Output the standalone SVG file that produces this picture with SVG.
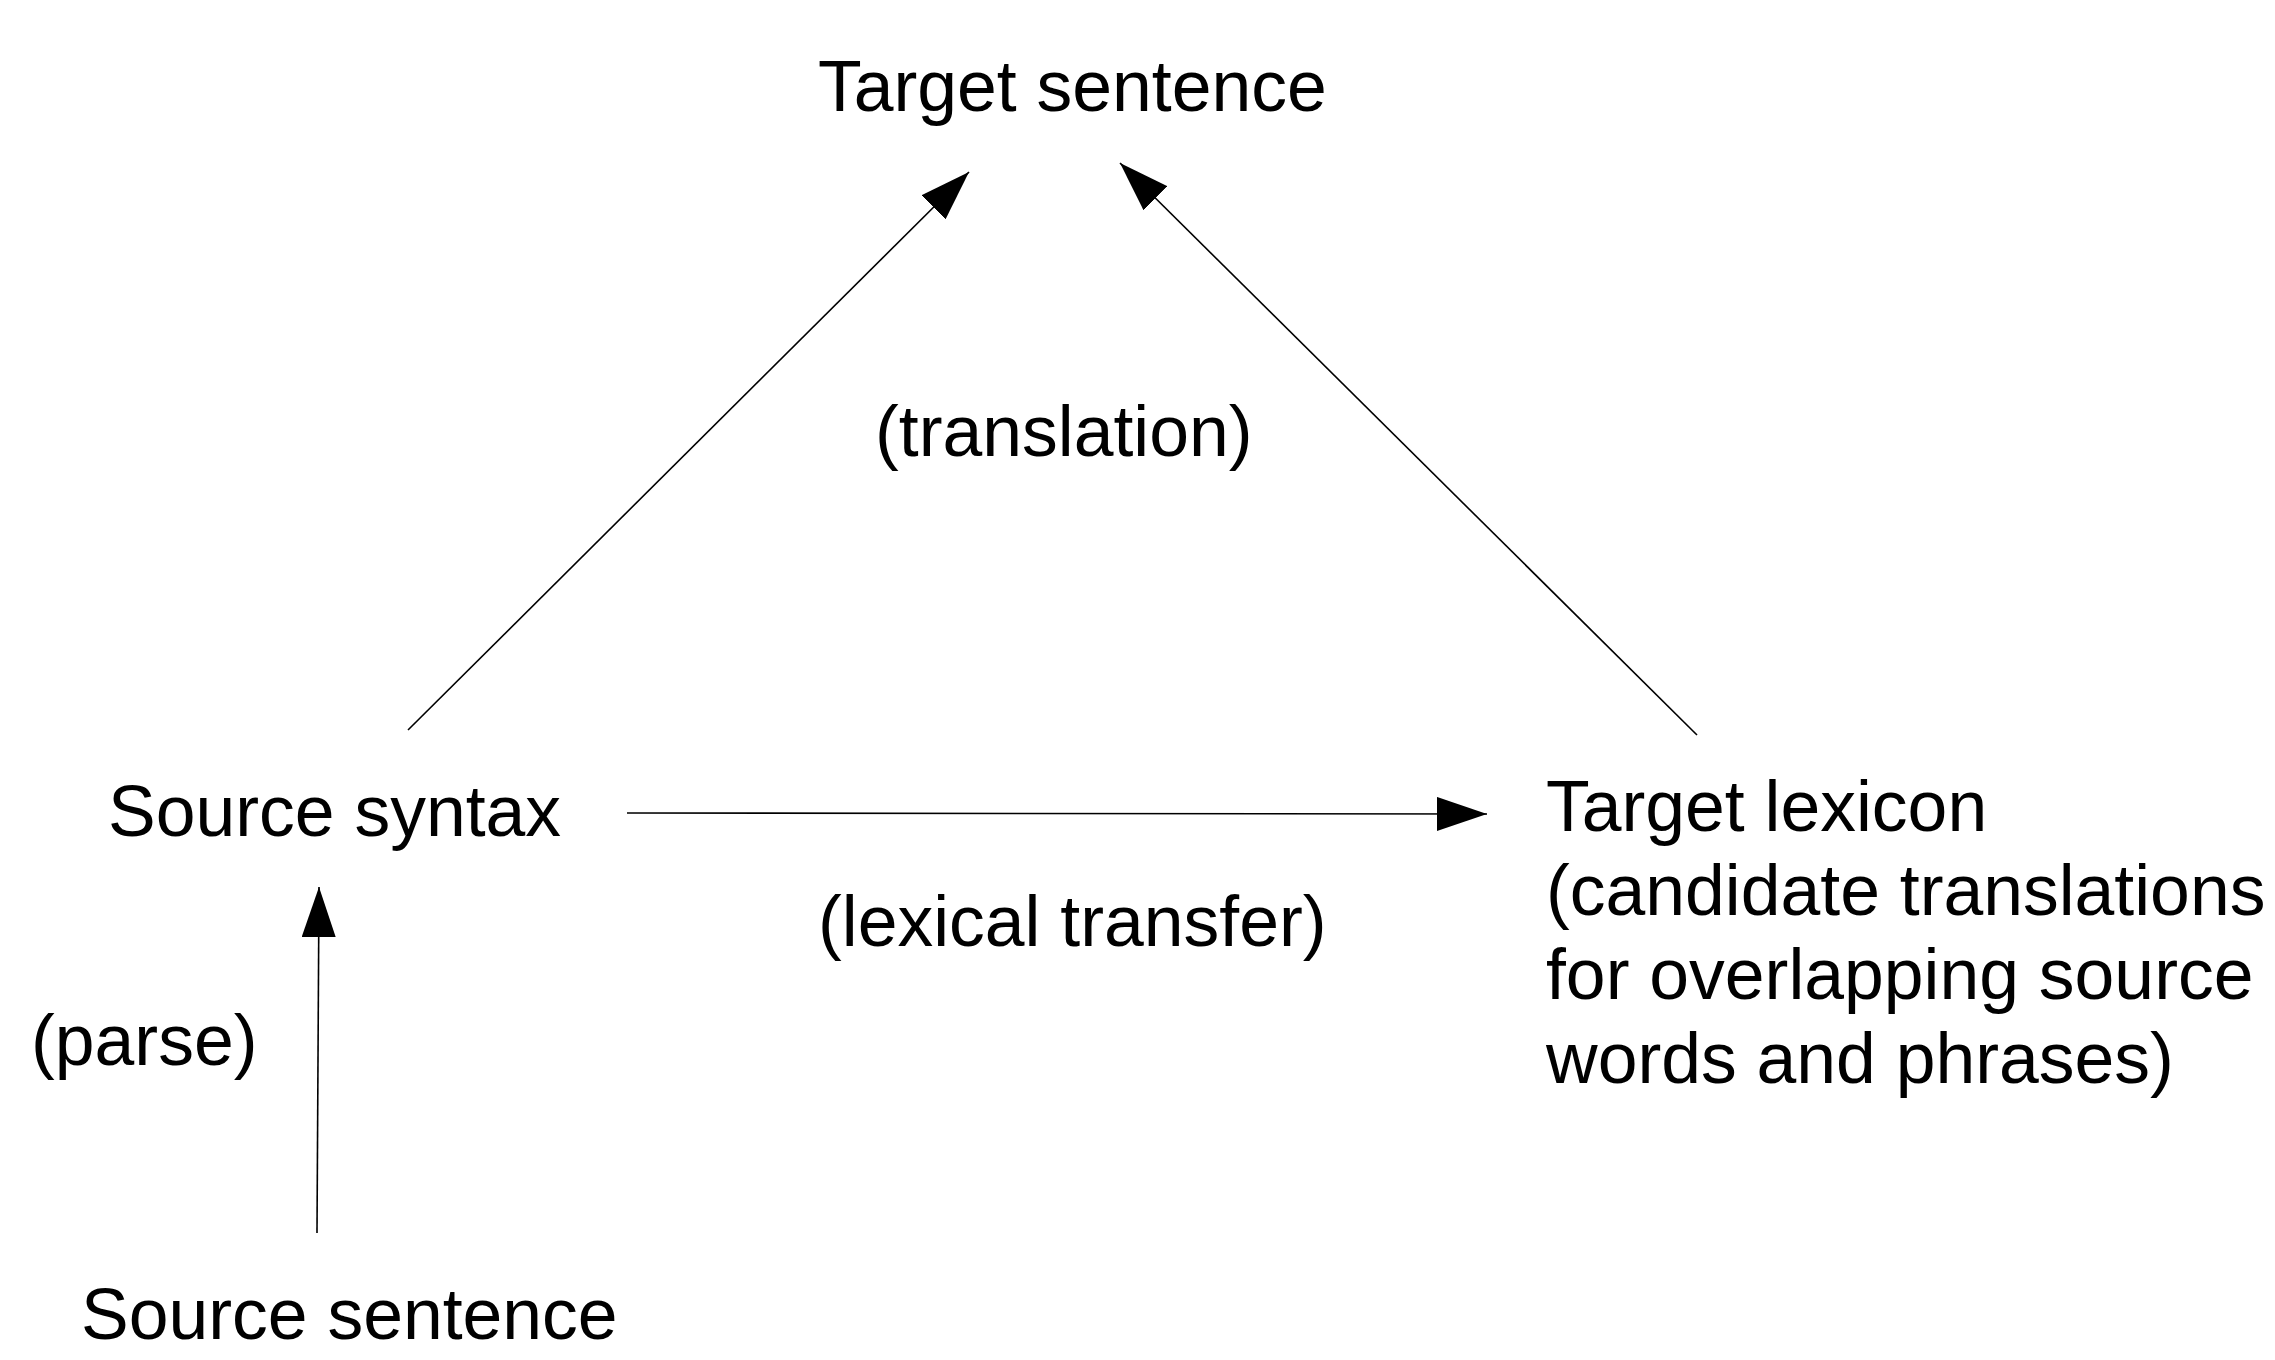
<svg xmlns="http://www.w3.org/2000/svg" width="2275" height="1360" viewBox="0 0 2275 1360">
  <style>
    .label { font-family: "Liberation Sans", Arial, sans-serif; font-size: 71.5px; fill: #000; }
    .edge { stroke: #000; stroke-width: 1.6; fill: none; marker-end: url(#arrow); }
  </style>
  <defs>
    <marker id="arrow" markerUnits="userSpaceOnUse" viewBox="0 0 50 34" markerWidth="50" markerHeight="34" refX="50" refY="17" orient="auto">
      <path d="M0,0 L50,17 L0,34 Z" fill="#000"/>
    </marker>
  </defs>
  <rect width="2275" height="1360" fill="#fff"/>

  <g id="connectors">
    <line class="edge" x1="317" y1="1233" x2="319" y2="887"/>
    <line class="edge" x1="408" y1="730" x2="969" y2="172"/>
    <line class="edge" x1="1697" y1="735" x2="1120" y2="163"/>
    <line class="edge" x1="627" y1="813" x2="1487" y2="814"/>
  </g>

  <g id="target-sentence">
    <text class="label" x="818" y="111">Target sentence</text>
  </g>
  <g id="translation-label">
    <text class="label" x="875" y="456">(translation)</text>
  </g>
  <g id="source-syntax">
    <text class="label" x="108" y="836">Source syntax</text>
  </g>
  <g id="lexical-transfer-label">
    <text class="label" x="818" y="946">(lexical transfer)</text>
  </g>
  <g id="parse-label">
    <text class="label" x="31" y="1065">(parse)</text>
  </g>
  <g id="source-sentence">
    <text class="label" x="81" y="1339">Source sentence</text>
  </g>
  <g id="target-lexicon">
    <text class="label" x="1546" y="831">Target lexicon</text>
    <text class="label" x="1546" y="915">(candidate translations</text>
    <text class="label" x="1546" y="999">for overlapping source</text>
    <text class="label" x="1546" y="1083">words and phrases)</text>
  </g>
</svg>
